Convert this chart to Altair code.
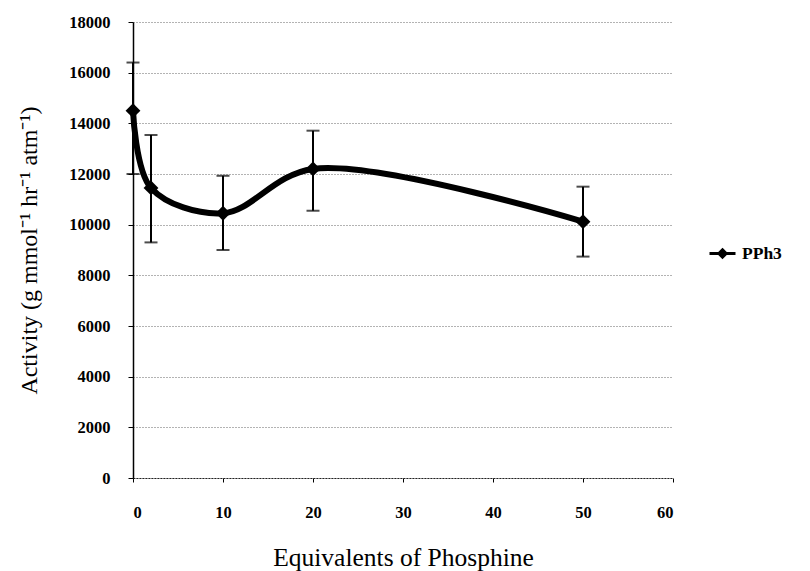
import altair as alt
import pandas as pd

# Catalyst activity vs. equivalents of added phosphine
equivalents = [0, 2, 10, 20, 50]
activity = [14500, 11450, 10450, 12200, 10120]
err_low = [12000, 9300, 9000, 10550, 8740]
err_high = [16400, 13540, 11930, 13710, 11500]
series = ["PPh3"] * len(equivalents)

df = pd.DataFrame({
    "eq": equivalents,
    "act": activity,
    "lo": err_low,
    "hi": err_high,
    "series": series,
})

serif = "Liberation Serif"

x_enc = alt.X(
    "eq:Q",
    scale=alt.Scale(domain=[0, 60], nice=False),
    axis=alt.Axis(
        values=[0, 10, 20, 30, 40, 50, 60],
        format="d",
        title="Equivalents of Phosphine",
        grid=False,
        tickSize=4,
        labelPadding=22,
        titlePadding=25,
        titleFontSize=25.5,
    ),
)
y_enc = alt.Y(
    "act:Q",
    scale=alt.Scale(domain=[0, 18000], nice=False),
    axis=alt.Axis(
        values=list(range(0, 18001, 2000)),
        format="d",
        title="Activity (g mmol⁻¹ hr⁻¹ atm⁻¹)",
        grid=True,
        tickSize=5,
        labelPadding=18,
        titlePadding=27,
        titleFontSize=24,
    ),
)

base = alt.Chart(df)

bars = base.mark_rule(color="black", strokeWidth=2).encode(
    x=x_enc, y=alt.Y("lo:Q"), y2="hi:Q"
)
cap_hi = base.mark_tick(color="black", thickness=2, size=13, orient="horizontal").encode(
    x="eq:Q", y="hi:Q"
)
cap_lo = base.mark_tick(color="black", thickness=2, size=13, orient="horizontal").encode(
    x="eq:Q", y="lo:Q"
)

line = base.mark_line(color="black", strokeWidth=6, interpolate="catmull-rom").encode(
    x=x_enc, y=y_enc
)

# legend glyph: short line through a diamond
legend_symbol = "M-1,0H1M0,-0.28L0.28,0L0,0.28L-0.28,0Z"

points = base.mark_point(shape="diamond", filled=True, size=220, opacity=1).encode(
    x="eq:Q",
    y="act:Q",
    color=alt.Color(
        "series:N",
        scale=alt.Scale(range=["black"]),
        legend=alt.Legend(
            title=None,
            orient="none",
            legendX=575,
            legendY=217,
            symbolType=legend_symbol,
            symbolSize=676,
            symbolStrokeWidth=3,
            symbolStrokeColor="black",
            symbolFillColor="black",
            labelFont=serif,
            labelFontSize=17.5,
            labelFontWeight="bold",
            labelColor="black",
            labelOffset=5,
        ),
    ),
)

chart = (
    alt.layer(bars, cap_hi, cap_lo, line, points)
    .properties(
        width=540,
        height=456,
        autosize=alt.AutoSizeParams(type="none"),
        padding={"left": 133, "top": 22, "right": 137, "bottom": 93},
        background="white",
    )
    .configure_view(stroke=None)
    .configure_axis(
        labelFont=serif,
        labelFontSize=16.5,
        labelFontWeight="bold",
        labelColor="black",
        titleFont=serif,
        titleFontWeight="normal",
        titleColor="black",
        domainColor="black",
        tickColor="black",
        gridColor="#666666",
        gridDash=[1, 2],
        gridWidth=1,
    )
    .configure_axisY(domainWidth=1.5)
    .configure_axisX(domainDash=[2, 1], domainColor="#222222")
)

chart.save("out.html", embed_options={"renderer": "svg", "actions": False})
